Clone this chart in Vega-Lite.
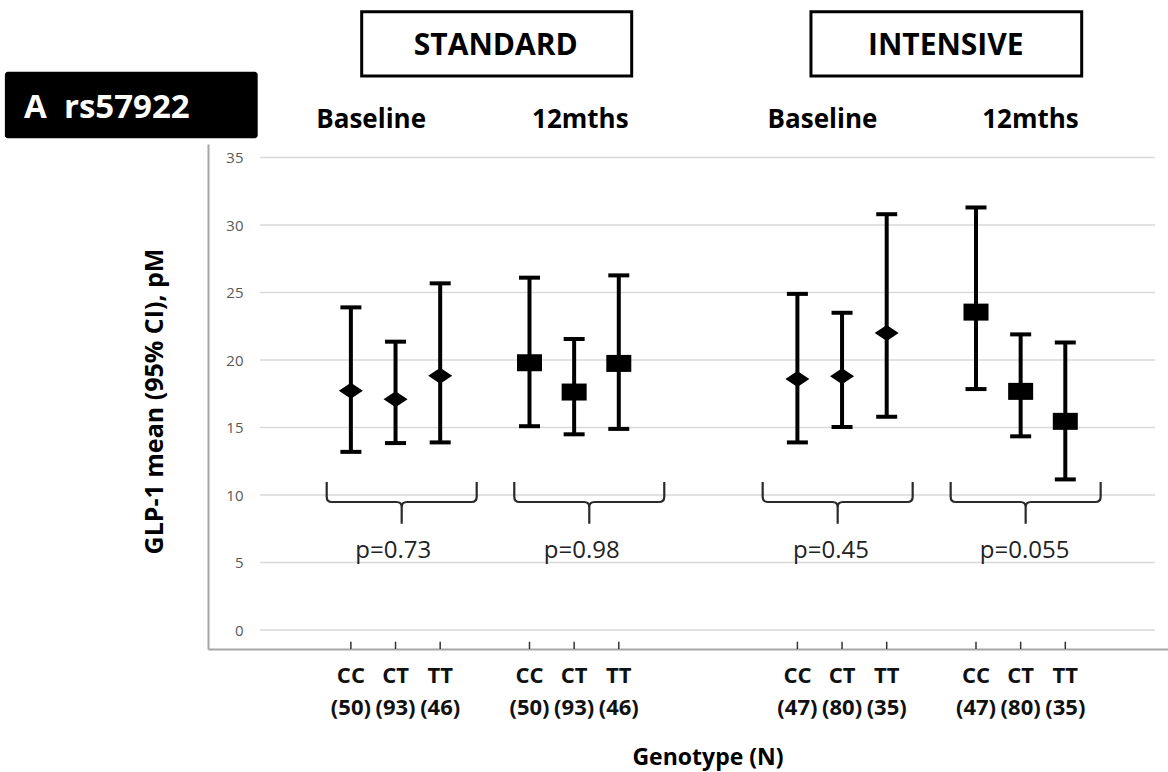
{
  "$schema": "https://vega.github.io/schema/vega-lite/v6.json",
  "width": 960,
  "height": 505,
  "autosize": {"type": "none"},
  "padding": {"left": 208, "top": 144, "right": 0, "bottom": 123},
  "background": "white",
  "config": {"font": "Open Sans", "view": {"stroke": null}},
  "datasets": {
    "ci": [
      {"arm": "STANDARD", "time": "Baseline", "geno": "CC", "label": "CC\n(50)", "pos": 0, "mean": 17.73, "lo": 13.2, "hi": 23.9},
      {"arm": "STANDARD", "time": "Baseline", "geno": "CT", "label": "CT\n(93)", "pos": 1, "mean": 17.1, "lo": 13.85, "hi": 21.36},
      {"arm": "STANDARD", "time": "Baseline", "geno": "TT", "label": "TT\n(46)", "pos": 2, "mean": 18.84, "lo": 13.9, "hi": 25.68},
      {"arm": "STANDARD", "time": "12mths", "geno": "CC", "label": "CC\n(50)", "pos": 4, "mean": 19.8, "lo": 15.1, "hi": 26.1},
      {"arm": "STANDARD", "time": "12mths", "geno": "CT", "label": "CT\n(93)", "pos": 5, "mean": 17.63, "lo": 14.5, "hi": 21.56},
      {"arm": "STANDARD", "time": "12mths", "geno": "TT", "label": "TT\n(46)", "pos": 6, "mean": 19.75, "lo": 14.9, "hi": 26.27},
      {"arm": "INTENSIVE", "time": "Baseline", "geno": "CC", "label": "CC\n(47)", "pos": 10, "mean": 18.6, "lo": 13.9, "hi": 24.9},
      {"arm": "INTENSIVE", "time": "Baseline", "geno": "CT", "label": "CT\n(80)", "pos": 11, "mean": 18.8, "lo": 15.04, "hi": 23.5},
      {"arm": "INTENSIVE", "time": "Baseline", "geno": "TT", "label": "TT\n(35)", "pos": 12, "mean": 22.0, "lo": 15.8, "hi": 30.8},
      {"arm": "INTENSIVE", "time": "12mths", "geno": "CC", "label": "CC\n(47)", "pos": 14, "mean": 23.55, "lo": 17.85, "hi": 31.3},
      {"arm": "INTENSIVE", "time": "12mths", "geno": "CT", "label": "CT\n(80)", "pos": 15, "mean": 17.68, "lo": 14.35, "hi": 21.9},
      {"arm": "INTENSIVE", "time": "12mths", "geno": "TT", "label": "TT\n(35)", "pos": 16, "mean": 15.46, "lo": 11.16, "hi": 21.3}
    ],
    "grid": [{"v": 0}, {"v": 5}, {"v": 10}, {"v": 15}, {"v": 20}, {"v": 25}, {"v": 30}, {"v": 35}],
    "tests": [
      {"p": "p=0.73", "xc": 0.95, "bx": 1.138},
      {"p": "p=0.98", "xc": 5.169, "bx": 5.339},
      {"p": "p=0.45", "xc": 10.752, "bx": 10.902},
      {"p": "p=0.055", "xc": 15.09, "bx": 15.112}
    ],
    "periods": [
      {"t": "Baseline", "x": 0.454},
      {"t": "12mths", "x": 5.138},
      {"t": "Baseline", "x": 10.562},
      {"t": "12mths", "x": 15.22}
    ],
    "arms": [
      {"t": "STANDARD", "x": 3.245, "x1": 0.242, "x2": 6.289},
      {"t": "INTENSIVE", "x": 13.323, "x1": 10.304, "x2": 16.367}
    ],
    "tag": [
      {"t": "A\u00a0\u00a0rs57922", "x": -7.321, "x1": -7.749, "x2": -2.087}
    ]
  },
  "layer": [
    {
      "data": {"name": "grid"},
      "mark": {"type": "rule", "stroke": "#d9d9d9", "strokeWidth": 1.5},
      "encoding": {
        "y": {
          "field": "v", "type": "quantitative",
          "scale": {"domain": [-1.4, 36], "nice": false, "zero": false},
          "axis": {
            "values": [0, 5, 10, 15, 20, 25, 30, 35],
            "grid": false, "ticks": false, "tickSize": 0,
            "labelPadding": -35, "labelFontSize": 15, "labelColor": "#595959",
            "domainColor": "#a6a6a6", "domainWidth": 2,
            "title": "GLP-1 mean (95% CI), pM",
            "titleFontSize": 25, "titleFontWeight": "bold", "titleColor": "black",
            "titleX": -46, "titleY": 257, "titleBaseline": "alphabetic",
            "titleAngle": 270, "titleAlign": "center"
          }
        },
        "x": {
          "datum": -2.036, "type": "quantitative",
          "scale": {"domain": [-3.2, 18.3], "nice": false, "zero": false},
          "axis": {
            "grid": false, "ticks": false, "labels": false,
            "domainColor": "#a6a6a6", "domainWidth": 2,
            "title": "Genotype (N)",
            "titleFontSize": 23, "titleFontWeight": "bold", "titleColor": "black",
            "titleX": 499.5, "titleY": 115, "titleBaseline": "alphabetic",
            "titleAlign": "center", "titleAnchor": null
          }
        },
        "x2": {"datum": 18.01}
      }
    },
    {
      "mark": {"type": "rule", "stroke": "#a6a6a6", "strokeWidth": 2},
      "encoding": {
        "x": {"datum": -3.2, "type": "quantitative"},
        "x2": {"datum": 18.3},
        "y": {"datum": 36, "type": "quantitative"}
      }
    },
    {
      "data": {"name": "ci"},
      "mark": {"type": "rule", "stroke": "black", "strokeWidth": 4},
      "encoding": {
        "x": {"field": "pos", "type": "quantitative"},
        "y": {"field": "lo", "type": "quantitative"},
        "y2": {"field": "hi"}
      }
    },
    {
      "data": {"name": "ci"},
      "mark": {"type": "tick", "orient": "horizontal", "color": "black", "size": 21, "thickness": 4, "opacity": 1},
      "encoding": {
        "x": {"field": "pos", "type": "quantitative"},
        "y": {"field": "lo", "type": "quantitative"}
      }
    },
    {
      "data": {"name": "ci"},
      "mark": {"type": "tick", "orient": "horizontal", "color": "black", "size": 21, "thickness": 4, "opacity": 1},
      "encoding": {
        "x": {"field": "pos", "type": "quantitative"},
        "y": {"field": "hi", "type": "quantitative"}
      }
    },
    {
      "data": {"name": "ci"},
      "mark": {"type": "point", "filled": true, "color": "black", "opacity": 1},
      "encoding": {
        "x": {"field": "pos", "type": "quantitative"},
        "y": {"field": "mean", "type": "quantitative"},
        "shape": {
          "field": "time", "type": "nominal",
          "scale": {"domain": ["Baseline", "12mths"], "range": ["M-1,0L0,-0.67L1,0L0,0.67Z", "M-1,-0.68H1V0.68H-1Z"]},
          "legend": null
        },
        "size": {
          "field": "time", "type": "nominal",
          "scale": {"domain": ["Baseline", "12mths"], "range": [576, 625]},
          "legend": null
        }
      }
    },
    {
      "data": {"name": "ci"},
      "mark": {"type": "rule", "stroke": "#333333", "strokeWidth": 1.5},
      "encoding": {
        "x": {"field": "pos", "type": "quantitative"},
        "y": {"datum": -1.4, "type": "quantitative"},
        "y2": {"datum": -0.86}
      }
    },
    {
      "data": {"name": "ci"},
      "mark": {"type": "text", "fontSize": 22, "fontWeight": "bold", "lineBreak": "\n", "lineHeight": 32, "align": "center", "baseline": "alphabetic", "color": "#111111"},
      "encoding": {
        "x": {"field": "pos", "type": "quantitative"},
        "y": {"datum": -3.895, "type": "quantitative"},
        "text": {"field": "label"}
      }
    },
    {
      "data": {"name": "tests"},
      "mark": {"type": "point", "filled": false, "stroke": "#2a2a2a", "strokeWidth": 2.2, "opacity": 1, "size": 22500,
        "shape": "M-1,-0.267L-1,-0.07Q-1,0 -0.93,0L-0.07,0Q0,0 0,0.07L0,0.289M0,0.07Q0,0 0.07,0L0.93,0Q1,0 1,-0.07L1,-0.267"},
      "encoding": {
        "x": {"field": "bx", "type": "quantitative"},
        "y": {"datum": 9.487, "type": "quantitative"}
      }
    },
    {
      "data": {"name": "tests"},
      "mark": {"type": "text", "fontSize": 24, "align": "center", "baseline": "alphabetic", "color": "#222222"},
      "encoding": {
        "x": {"field": "xc", "type": "quantitative"},
        "y": {"datum": 5.362, "type": "quantitative"},
        "text": {"field": "p"}
      }
    },
    {
      "data": {"name": "arms"},
      "mark": {"type": "rect", "fill": "white", "stroke": "black", "strokeWidth": 3},
      "encoding": {
        "x": {"field": "x1", "type": "quantitative"},
        "x2": {"field": "x2"},
        "y": {"datum": 41.036, "type": "quantitative"},
        "y2": {"datum": 45.8}
      }
    },
    {
      "data": {"name": "arms"},
      "mark": {"type": "text", "fontSize": 30, "fontWeight": "bold", "align": "center", "baseline": "alphabetic", "color": "black"},
      "encoding": {
        "x": {"field": "x", "type": "quantitative"},
        "y": {"datum": 42.62, "type": "quantitative"},
        "text": {"field": "t"}
      }
    },
    {
      "data": {"name": "periods"},
      "mark": {"type": "text", "fontSize": 26, "fontWeight": "bold", "align": "center", "baseline": "alphabetic", "color": "black"},
      "encoding": {
        "x": {"field": "x", "type": "quantitative"},
        "y": {"datum": 37.163, "type": "quantitative"},
        "text": {"field": "t"}
      }
    },
    {
      "data": {"name": "tag"},
      "mark": {"type": "rect", "fill": "black", "cornerRadius": 3},
      "encoding": {
        "x": {"field": "x1", "type": "quantitative"},
        "x2": {"field": "x2"},
        "y": {"datum": 36.42, "type": "quantitative"},
        "y2": {"datum": 41.354}
      }
    },
    {
      "data": {"name": "tag"},
      "mark": {"type": "text", "fontSize": 33, "fontWeight": "bold", "align": "left", "baseline": "alphabetic", "color": "white"},
      "encoding": {
        "x": {"field": "x", "type": "quantitative"},
        "y": {"datum": 37.9, "type": "quantitative"},
        "text": {"field": "t"}
      }
    }
  ]
}
